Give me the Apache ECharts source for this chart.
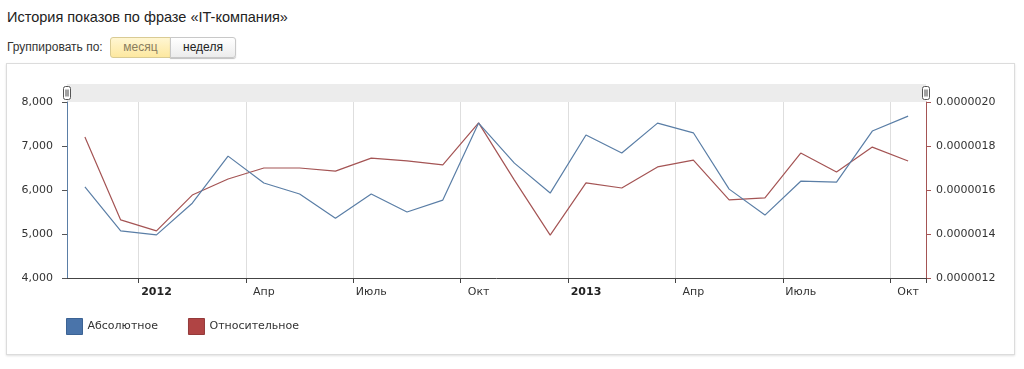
<!DOCTYPE html>
<html>
<head>
<meta charset="utf-8">
<script src="https://cdn.jsdelivr.net/npm/echarts@6/dist/echarts.min.js"></script>
<style>
  html, body { margin: 0; padding: 0; background: #fff; width: 1024px; height: 369px; overflow: hidden; }
  #title { position: absolute; left: 7px; top: 9px; font: 14.5px "Liberation Sans", Arial, sans-serif; color: #222; white-space: nowrap; }
  #group { position: absolute; left: 7px; top: 40px; font: 12px "Liberation Sans", Arial, sans-serif; color: #333; }
  .btn { position: absolute; top: 37px; height: 21px; box-sizing: border-box; font: 12px "Liberation Sans", Arial, sans-serif; line-height: 19px; text-align: center; border: 1px solid #c8c8c8; }
  #b1 { left: 110px; width: 61px; background: linear-gradient(#fff6d2, #fde8a0); color: #8a7d5e; border-color: #d9cb94; border-radius: 3px 0 0 3px; }
  #b2 { left: 170px; width: 66px; background: linear-gradient(#ffffff, #ececec); color: #222; border-radius: 0 3px 3px 0; box-shadow: 0 1px 1px rgba(0,0,0,0.25); }
  #box { position: absolute; left: 6px; top: 63px; width: 1009px; height: 292px; box-sizing: border-box; border: 1px solid #dcdcdc; box-shadow: 0 1px 2px rgba(0,0,0,0.12); }
  #chart { position: absolute; left: 0; top: 0; width: 1007px; height: 290px; }
</style>
</head>
<body>
<div id="title">История показов по фразе «IT-компания»</div>
<div id="group">Группировать по:</div>
<div class="btn" id="b1">месяц</div>
<div class="btn" id="b2">неделя</div>
<div id="box"><div id="chart"></div></div>
<script>
// Months from Nov 2011 to Oct 2013 (data points are monthly)
const months = ['2011-11','2011-12','2012-01','2012-02','2012-03','2012-04','2012-05','2012-06','2012-07','2012-08','2012-09','2012-10',
                '2012-11','2012-12','2013-01','2013-02','2013-03','2013-04','2013-05','2013-06','2013-07','2013-08','2013-09','2013-10'];
const absoluteValues = [6070,5070,4980,5700,6770,6160,5910,5360,5910,5500,5770,7520,
                        6610,5930,7250,6840,7520,7300,6020,5430,6200,6180,7340,7680];
const relativeValues = [0.000001841,0.000001464,0.000001414,0.000001577,0.000001650,0.000001700,0.000001700,0.000001686,0.000001745,0.000001732,0.000001714,0.000001905,
                        0.000001645,0.000001395,0.000001632,0.000001609,0.000001705,0.000001736,0.000001555,0.000001564,0.000001768,0.000001682,0.000001795,0.000001732];
const monthNames = ['Янв','Фев','Мар','Апр','Май','Июнь','Июль','Авг','Сен','Окт','Ноя','Дек'];
const seriesNames = ['Абсолютное','Относительное'];

const BLUE = '#5a7ea6', RED = '#a45454';
const isQuarter = (i) => { const m = parseInt(months[i].slice(5), 10) - 1; return m % 3 === 0; };

const chart = echarts.init(document.getElementById('chart'), null, { renderer: 'canvas' });
const fontFamily = '"DejaVu Sans", Verdana, sans-serif';
chart.setOption({
  animation: false,
  textStyle: { fontFamily },
  grid: { left: 60, right: 88, top: 38, bottom: 76 },
  legend: {
    left: 59, top: 254, padding: 0, itemWidth: 16, itemHeight: 16, itemGap: 30, icon: 'rect',
    textStyle: { fontSize: 11, color: '#333', fontFamily },
    data: [
      { name: seriesNames[0], itemStyle: { color: '#4a74aa', borderColor: '#3c6394', borderWidth: 1 } },
      { name: seriesNames[1], itemStyle: { color: '#b04444', borderColor: '#943a3a', borderWidth: 1 } }
    ]
  },
  xAxis: {
    type: 'category', data: months, boundaryGap: true,
    axisLine: { lineStyle: { color: '#444', width: 1 } },
    axisTick: { show: true, length: 5, interval: (i) => isQuarter(i), lineStyle: { color: '#444' } },
    splitLine: { show: true, interval: (i) => isQuarter(i), lineStyle: { color: '#dedede', width: 1 } },
    axisLabel: {
      interval: (i) => isQuarter(i), margin: 9, fontSize: 11, color: '#333', fontFamily,
      formatter: (v) => { const y = v.slice(0, 4), m = parseInt(v.slice(5), 10) - 1; return m === 0 ? '{b|' + y + '}' : monthNames[m]; },
      rich: { b: { fontWeight: 'bold', fontSize: 11, color: '#222', fontFamily } }
    }
  },
  yAxis: [
    {
      type: 'value', min: 4000, max: 8000, interval: 1000, position: 'left',
      axisLine: { show: true, lineStyle: { color: BLUE, width: 1 } },
      axisTick: { show: true, length: 5, lineStyle: { color: '#555' } },
      splitLine: { show: false },
      axisLabel: { margin: 14, fontSize: 11, color: '#333', fontFamily, formatter: (v) => v.toLocaleString('en-US') }
    },
    {
      type: 'value', min: 0.0000012, max: 0.0000020, interval: 0.0000002, position: 'right',
      axisLine: { show: true, lineStyle: { color: RED, width: 1 } },
      axisTick: { show: true, length: 5, lineStyle: { color: RED } },
      splitLine: { show: false },
      axisLabel: { margin: 10, fontSize: 11, color: '#333', fontFamily, formatter: (v) => v.toFixed(7) }
    }
  ],
  series: [
    { name: seriesNames[0], type: 'line', yAxisIndex: 0, data: absoluteValues, showSymbol: false, symbol: 'none',
      lineStyle: { color: BLUE, width: 1.2 }, itemStyle: { color: '#4a74aa' }, z: 3 },
    { name: seriesNames[1], type: 'line', yAxisIndex: 1, data: relativeValues, showSymbol: false, symbol: 'none',
      lineStyle: { color: RED, width: 1.2 }, itemStyle: { color: '#b04444' }, z: 2 }
  ],
  graphic: [
    { type: 'rect', z: 0, shape: { x: 60, y: 20, width: 859, height: 18 }, style: { fill: '#ececec' } },
    { type: 'group', left: 56, top: 22, z: 10, children: [
      { type: 'rect', shape: { x: 0, y: 0, width: 7, height: 13, r: 2 }, style: { fill: '#fff', stroke: '#555', lineWidth: 1 } },
      { type: 'rect', shape: { x: 2, y: 3, width: 1, height: 7 }, style: { fill: '#444' } },
      { type: 'rect', shape: { x: 4, y: 3, width: 1, height: 7 }, style: { fill: '#444' } }
    ]},
    { type: 'group', left: 915, top: 22, z: 10, children: [
      { type: 'rect', shape: { x: 0, y: 0, width: 7, height: 13, r: 2 }, style: { fill: '#fff', stroke: '#555', lineWidth: 1 } },
      { type: 'rect', shape: { x: 2, y: 3, width: 1, height: 7 }, style: { fill: '#444' } },
      { type: 'rect', shape: { x: 4, y: 3, width: 1, height: 7 }, style: { fill: '#444' } }
    ]}
  ]
});
</script>
</body>
</html>
